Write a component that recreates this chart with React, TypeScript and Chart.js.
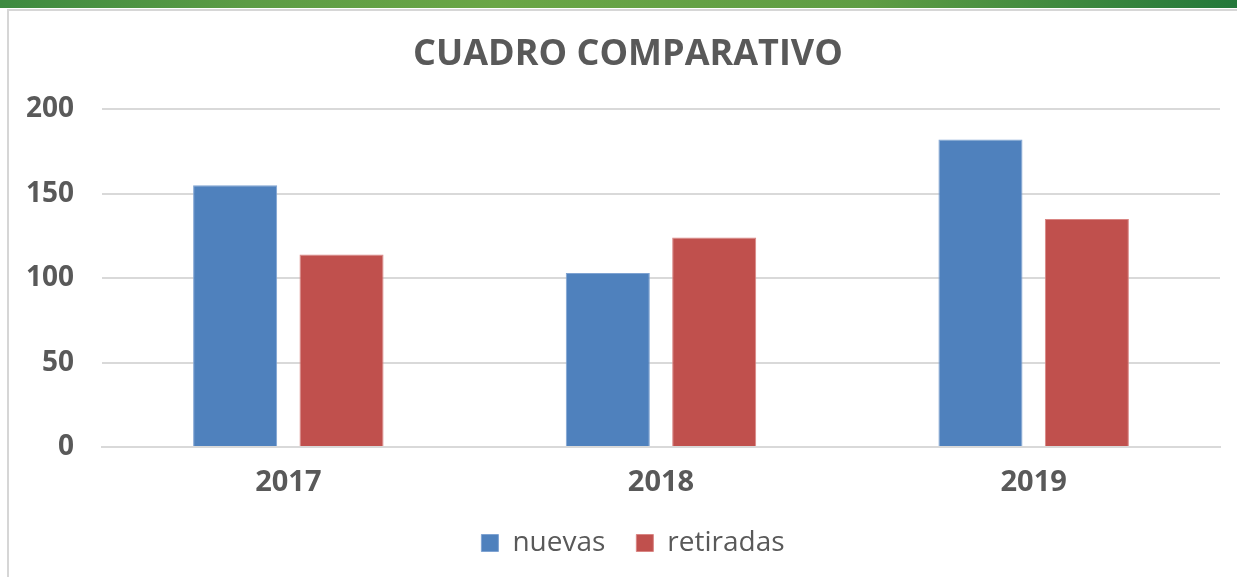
import React, { useEffect, useRef } from "react";
import { Chart, registerables } from "chart.js";

Chart.register(...registerables);

const categories = ["2017", "2018", "2019"];
const nuevas = [155, 103, 182];
const retiradas = [114, 124, 135];
const seriesNames = ["nuevas", "retiradas"];
const yTicks = [0, 50, 100, 150, 200];
const titleText = "CUADRO COMPARATIVO";

const FONT = "'Open Sans', 'DejaVu Sans', sans-serif";
const TEXT = "#595959";

const shiftBlocks = {
  id: "shiftBlocks",
  afterLayout(chart: any) {
    const t = chart.titleBlock;
    if (t) {
      t.left += 8;
      t.right += 8;
    }
    const l = chart.legend;
    if (l) {
      l.left += 13;
      l.right += 13;
    }
  },
};

export default function App() {
  const ref = useRef<HTMLCanvasElement | null>(null);

  useEffect(() => {
    document.body.style.margin = "0";
    const canvas = ref.current;
    if (!canvas) return;
    const chart = new Chart(canvas, {
      type: "bar",
      data: {
        labels: categories,
        datasets: [
          {
            label: seriesNames[0],
            data: nuevas,
            backgroundColor: "#4F81BD",
            borderColor: "#7fa3d2",
            borderWidth: 1,
          },
          {
            label: seriesNames[1],
            data: retiradas,
            backgroundColor: "#C0504D",
            borderColor: "#d98583",
            borderWidth: 1,
          },
        ],
      },
      options: {
        responsive: false,
        animation: false,
        layout: { padding: { left: 20, right: 17, top: 33, bottom: 10 } },
        datasets: {
          bar: { categoryPercentage: 0.571, barPercentage: 0.79 },
        },
        plugins: {
          title: {
            display: true,
            text: titleText,
            color: TEXT,
            font: { family: FONT, size: 36, weight: "bold" },
            padding: { top: 0, bottom: 33 },
          },
          legend: {
            position: "bottom",
            labels: {
              color: TEXT,
              font: { family: FONT, size: 28 },
              boxWidth: 17,
              boxHeight: 17,
              padding: 31,
            },
          },
          tooltip: { enabled: false },
        },
        scales: {
          x: {
            afterFit: (scale: any) => {
              scale.paddingLeft = 0;
              scale.paddingRight = 0;
              scale.height = 51;
            },
            grid: { display: false, drawTicks: false },
            border: { display: true, color: "#d9d9d9", width: 2 },
            ticks: {
              color: TEXT,
              font: { family: FONT, size: 29, weight: "bold" },
              padding: 18,
            },
          },
          y: {
            min: 0,
            max: 200,
            afterBuildTicks: (scale: any) => {
              scale.ticks = yTicks.map((v) => ({ value: v }));
            },
            afterFit: (scale: any) => {
              scale.width = 82;
            },
            grid: { color: "#d9d9d9", lineWidth: 2, drawTicks: false },
            border: { display: false },
            ticks: {
              color: TEXT,
              font: { family: FONT, size: 28, weight: "bold" },
              padding: 28,
            },
          },
        },
      },
      plugins: [shiftBlocks],
    });
    return () => chart.destroy();
  }, []);

  return (
    <div
      style={{
        position: "fixed",
        left: 0,
        top: 0,
        width: 1237,
        height: 577,
        background: "#ffffff",
        overflow: "hidden",
      }}
    >
      <div
        style={{
          position: "absolute",
          left: 0,
          top: 0,
          width: 1237,
          height: 8,
          background:
            "linear-gradient(90deg, #3d8a40 0%, #5c9c45 20%, #6aa646 40%, #5f9d44 70%, #23783a 100%)",
        }}
      />
      <div
        style={{
          position: "absolute",
          left: 7,
          top: 9,
          width: 1230,
          height: 2,
          background: "#d6d6d6",
        }}
      />
      <div
        style={{
          position: "absolute",
          left: 7,
          top: 9,
          width: 2,
          height: 568,
          background: "#d6d6d6",
        }}
      />
      <canvas
        ref={ref}
        width={1237}
        height={577}
        style={{ position: "absolute", left: 0, top: 0 }}
      />
    </div>
  );
}
